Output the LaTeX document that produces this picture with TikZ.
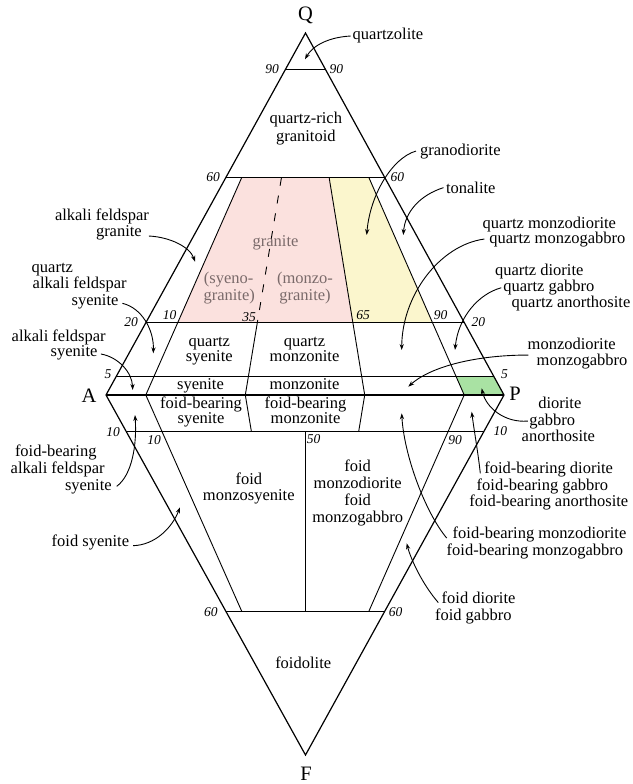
\documentclass[tikz,border=0pt]{standalone}
\usepackage{fontspec}
\setmainfont{Liberation Serif}
\usetikzlibrary{arrows.meta}
\definecolor{pinkf}{HTML}{FBE1DE}
\definecolor{yelf}{HTML}{FBF6CD}
\definecolor{grnf}{HTML}{A9E2A3}
\definecolor{grtxt}{HTML}{7A6A6A}
\begin{document}
\begin{tikzpicture}[x=1pt,y=-1pt,
 lbl/.style={inner sep=0pt,outer sep=0pt,font=\fontsize{16.5}{16.5}\selectfont},
 L/.style={lbl,anchor=base west},
 C/.style={lbl,anchor=base},
 gl/.style={C,text=grtxt},
 num/.style={inner sep=0pt,font=\fontsize{13.5}{13.5}\selectfont\itshape},
 vtx/.style={inner sep=0pt,font=\fontsize{20.5}{20.5}\selectfont},
 outl/.style={line width=1.2pt,line join=miter},
 inl/.style={line width=0.9pt},
 arr/.style={line width=0.9pt,-{Stealth[length=6pt,width=4.2pt]}},
]
\useasboundingbox (0,0) rectangle (632,784);
% vertices
\coordinate (Q) at (305.5,33);
\coordinate (A) at (106,395);
\coordinate (P) at (504,395);
\coordinate (F) at (305.5,755);
% fills
\fill[pinkf] (241.62,177.8) -- (329.18,177.8) -- (352.86,322.6) -- (177.74,322.6) -- cycle;
\fill[yelf] (329.18,177.8) -- (368.98,177.8) -- (432.46,322.6) -- (352.86,322.6) -- cycle;
\fill[grnf] (456.27,376.9) -- (494.08,376.9) -- (504,395) -- (464.2,395) -- cycle;
% horizontal lines
\draw[inl] (285.55,69.2) -- (325.35,69.2);
\draw[inl] (225.7,177.8) -- (384.9,177.8);
\draw[inl] (145.9,322.6) -- (464.3,322.6);
\draw[inl] (115.98,376.9) -- (494.08,376.9);
\draw[inl] (125.95,431) -- (484.15,431);
\draw[inl] (225.7,611) -- (384.9,611);
% upper radial lines
\draw[inl] (241.62,177.8) -- (145.8,395);
\draw[inl,dash pattern=on 8pt off 10pt] (281.42,177.8) -- (257.34,322.6);
\draw[inl] (257.34,322.6) -- (245.3,395);
\draw[inl] (329.18,177.8) -- (364.7,395);
\draw[inl] (368.98,177.8) -- (464.2,395);
% lower radial lines
\draw[inl] (145.8,395) -- (241.62,611);
\draw[inl] (245.3,395) -- (251.32,431);
\draw[inl] (305.2,431) -- (305.2,611);
\draw[inl] (364.7,395) -- (358.78,431);
\draw[inl] (464.2,395) -- (368.98,611);
% outline
\draw[outl] (A) -- (Q) -- (P);
\draw[outl] (A) -- (F) -- (P);
\draw[line width=1.8pt] (A) -- (P);
% vertex labels
\node[vtx] (lQ) at (305.5,15.5) {Q};
\node[vtx] (lA) at (89,395.5) {A};
\node[vtx] (lP) at (515,394) {P};
\node[vtx] (lF) at (306,773.5) {F};
% numbers
\node[num] (n1) at (272,69.5) {90};
\node[num] (n2) at (336.3,69.5) {90};
\node[num] (n3) at (213,177) {60};
\node[num] (n4) at (397.3,177) {60};
\node[num] (n5) at (131,322.5) {20};
\node[num] (n6) at (169.7,315) {10};
\node[num] (n7) at (249,316.7) {35};
\node[num] (n8) at (363,315) {65};
\node[num] (n9) at (440.5,315) {90};
\node[num] (n10) at (478.3,322.5) {20};
\node[num] (n11) at (108,374) {5};
\node[num] (n12) at (504.5,374) {5};
\node[num] (n13) at (113,431.7) {10};
\node[num] (n14) at (154,440) {10};
\node[num] (n15) at (313.7,439.5) {50};
\node[num] (n16) at (455,440.5) {90};
\node[num] (n17) at (500.3,431.3) {10};
\node[num] (n18) at (210.8,612.5) {60};
\node[num] (n19) at (395.5,612.5) {60};
% inner labels
\node[C] (qr1) at (305.8,123.3) {quartz-rich};
\node[C] (qr2) at (305.8,141.7) {granitoid};
\node[gl] (gr0) at (275.5,246.7) {granite};
\node[gl] (sg1) at (228.7,283.3) {(syeno-};
\node[gl] (sg2) at (229.2,300) {granite)};
\node[gl] (mg1) at (305,283.3) {(monzo-};
\node[gl] (mg2) at (305,300) {granite)};
\node[C] (qs1) at (209.3,346.7) {quartz};
\node[C] (qs2) at (209.3,361.7) {syenite};
\node[C] (qm1) at (304.5,346.7) {quartz};
\node[C] (qm2) at (304.5,361.7) {monzonite};
\node[C] (sy) at (200.5,389) {syenite};
\node[C] (mz) at (304.5,389) {monzonite};
\node[C] (fs1) at (201,408.3) {foid-bearing};
\node[C] (fs2) at (201,423.3) {syenite};
\node[C] (fm1) at (305.5,408.3) {foid-bearing};
\node[C] (fm2) at (305.5,423.3) {monzonite};
\node[C] (fms1) at (248.8,484) {foid};
\node[C] (fms2) at (248.8,500.7) {monzosyenite};
\node[C] (fmd1) at (357.7,471.7) {foid};
\node[C] (fmd2) at (357.7,488.3) {monzodiorite};
\node[C] (fmd3) at (357.7,505) {foid};
\node[C] (fmd4) at (357.7,522.7) {monzogabbro};
\node[C] (fdl) at (303.2,668.3) {foidolite};
% outside labels right
\node[L] (qzl) at (352.7,40) {quartzolite};
\node[L] (grd) at (420,155) {granodiorite};
\node[L] (ton) at (446,193.3) {tonalite};
\node[L] (qmd) at (482.7,228) {quartz monzodiorite};
\node[L] (qmg) at (489.3,243) {quartz monzogabbro};
\node[L] (qd) at (495,275) {quartz diorite};
\node[L] (qg) at (503.3,291.7) {quartz gabbro};
\node[L] (qa) at (511.7,307.3) {quartz anorthosite};
\node[L] (mzd) at (527.7,349.3) {monzodiorite};
\node[L] (mzg) at (536.7,365) {monzogabbro};
\node[L] (dio) at (538.3,408.3) {diorite};
\node[L] (gab) at (529.3,425) {gabbro};
\node[L] (ano) at (521.7,441.7) {anorthosite};
\node[L] (fbd) at (484.3,473.3) {foid-bearing diorite};
\node[L] (fbg) at (476.7,490) {foid-bearing gabbro};
\node[L] (fba) at (469.3,506.7) {foid-bearing anorthosite};
\node[L] (fbmd) at (452.7,538.3) {foid-bearing monzodiorite};
\node[L] (fbmg) at (446.7,555) {foid-bearing monzogabbro};
\node[L] (fdi) at (441.7,603.3) {foid diorite};
\node[L] (fga) at (435,620) {foid gabbro};
% outside labels left
\node[L] (afg1) at (55,220) {alkali feldspar};
\node[L] (afg2) at (96,236.7) {granite};
\node[L] (qas1) at (31.7,272.7) {quartz};
\node[L] (qas2) at (32.7,288.3) {alkali feldspar};
\node[L] (qas3) at (71.7,305) {syenite};
\node[L] (afs1) at (11.7,341.7) {alkali feldspar};
\node[L] (afs2) at (50.7,356.7) {syenite};
\node[L] (fas1) at (15,456.7) {foid-bearing};
\node[L] (fas2) at (10.7,473.3) {alkali feldspar};
\node[L] (fas3) at (65,490) {syenite};
\node[L] (fsy) at (51.7,546.7) {foid syenite};
% arrow targets
\coordinate (t1) at (305,59.3);
\coordinate (t2) at (366.7,235);
\coordinate (t3) at (403.3,235);
\coordinate (t4) at (401.7,350);
\coordinate (t5) at (455,350);
\coordinate (t6) at (408.3,386.7);
\coordinate (t7) at (481.7,388.3);
\coordinate (t8) at (471.7,411.7);
\coordinate (t9) at (401.7,413.3);
\coordinate (t10) at (406.7,543.3);
\coordinate (t11) at (195,261.7);
\coordinate (t12) at (153.3,353.3);
\coordinate (t13) at (132.7,390);
\coordinate (t14) at (135,415);
\coordinate (t15) at (180,507.3);
% arrows
\draw[arr] ([xshift=-2pt]qzl.west) .. controls (330,37) and (313,45) .. (t1);
\draw[arr] ([xshift=-4pt]grd.west) .. controls (392,158) and (370,195) .. (t2);
\draw[arr] ([xshift=-2.5pt]ton.west) .. controls (420,195) and (405,212) .. (t3);
\draw[arr] ([xshift=-5pt]qmg.west) .. controls (440,245) and (402,295) .. (t4);
\draw[arr] ([xshift=-2pt]qg.west) .. controls (478,294) and (458,318) .. (t5);
\draw[arr] ([xshift=-8.4pt,yshift=6pt]mzg.west) .. controls (475,355) and (430,367) .. (t6);
\draw[arr] ([xshift=-1.5pt]gab.west) .. controls (505,423) and (486,408) .. (t7);
\draw[arr] ([xshift=-4pt,yshift=-4pt]fbd.west) .. controls (478,452) and (474,430) .. (t8);
\draw[arr] ([xshift=-6pt,yshift=-3.8pt]fbmd.west) .. controls (425,512) and (404,455) .. (t9);
\draw[arr] ([xshift=-3.4pt,yshift=-5pt]fdi.west) .. controls (423,585) and (411,560) .. (t10);
\draw[arr] ([xshift=7pt,yshift=-3pt]afg2.east) .. controls (170,237) and (190,247) .. (t11);
\draw[arr] ([xshift=4pt,yshift=-2pt]qas3.east) .. controls (142,308) and (154,330) .. (t12);
\draw[arr] ([xshift=3.5pt,yshift=-1pt]afs2.east) .. controls (118,357) and (132,372) .. (t13);
\draw[arr] ([xshift=5pt]fas3.east) .. controls (132,475) and (137,445) .. (t14);
\draw[arr] ([xshift=4pt,yshift=-3pt]fsy.east) .. controls (155,545) and (172,528) .. (t15);
\end{tikzpicture}
\end{document}
